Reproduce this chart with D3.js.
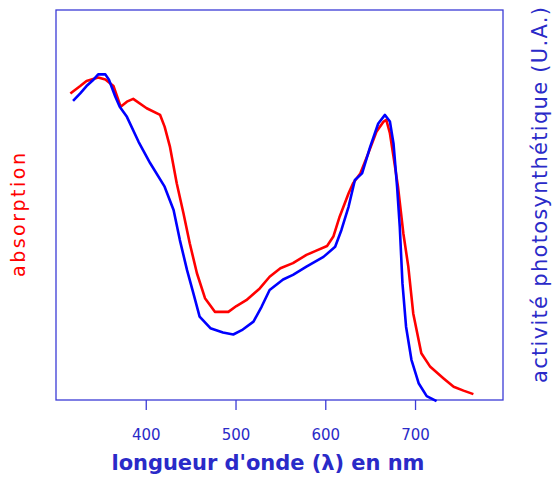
<!DOCTYPE html>
<html>
<head>
<meta charset="utf-8">
<script src="https://cdn.jsdelivr.net/npm/d3@7"></script>
<style>
  body { margin: 0; background: #fff; }
  svg { display: block; font-family: "DejaVu Sans", sans-serif; }
</style>
</head>
<body>
<script>
// absorption spectrum (red) and photosynthetic action spectrum (blue), arbitrary units 0-100
const redWl  = [316, 327, 334, 347, 355, 364, 368, 372, 379, 386, 401, 416, 421, 427, 434.5, 442, 449, 457, 466, 477, 492, 501, 512, 527, 538, 550, 564, 579, 590, 602, 609, 616, 626, 631, 639, 648, 657, 665, 668, 672, 676, 681, 687, 692.5, 698, 707, 717, 731.5, 743, 754, 765]
const redAbs = [78.6, 80.5, 81.8, 82.7, 82.2, 80.5, 77.9, 75.2, 76.5, 77.2, 74.8, 73.1, 70.1, 64.9, 55.6, 47.9, 40.2, 32.5, 26.1, 22.6, 22.6, 24.1, 25.6, 28.6, 31.6, 33.8, 35.1, 37.2, 38.3, 39.5, 41.9, 47, 53, 55.6, 58.1, 63.3, 68.8, 71.4, 71.8, 68.4, 62.4, 54.7, 42.7, 34.2, 22.2, 12, 8.5, 5.6, 3.4, 2.4, 1.5]

const blueWl  = [319, 327, 334, 342, 347, 355, 359, 366, 371, 379, 392, 405, 421, 431, 438, 446, 453, 460, 472, 486, 497.5, 507, 520, 529, 538, 553, 564, 579, 598, 611, 618, 626, 633, 641, 650, 659, 666.5, 672, 676, 680, 683, 686, 690, 696, 704, 713, 724]
const blueAct = [76.7, 78.6, 80.5, 82.2, 83.5, 83.5, 82.1, 77.8, 75.2, 72.6, 66.2, 60.7, 54.7, 48.7, 41, 33.3, 27.4, 21.4, 18.4, 17.3, 16.8, 17.9, 20.1, 23.9, 28.2, 30.9, 32.1, 34.2, 36.7, 39.3, 43.6, 49.6, 56.4, 58.1, 64.9, 70.9, 73.1, 71.4, 65.8, 54.7, 44.4, 29.9, 18.8, 10.3, 4.3, 1.0, -0.3]

const xTicks = [400, 500, 600, 700]

const width = 553
const height = 479
const margin = {top: 10, right: 50, bottom: 79, left: 56}

const frameColor = '#3b3bd6'
const textBlue = '#2a2ac8'

const x = d3.scaleLinear().domain([300, 798]).range([margin.left, width - margin.right])
const y = d3.scaleLinear().domain([0, 100]).range([height - margin.bottom, margin.top])

const svg = d3.select('body').append('svg')
      .attr('width', width)
      .attr('height', height)

// frame
svg.append('rect')
  .attr('x', x(300))
  .attr('y', y(100))
  .attr('width', x(798) - x(300))
  .attr('height', y(0) - y(100))
  .attr('fill', 'none')
  .attr('stroke', frameColor)
  .attr('stroke-width', 1.3)

// bottom ticks
const xAxis = svg.append('g')
  .attr('transform', 'translate(0,' + y(0) + ')')
  .call(d3.axisBottom(x).tickValues(xTicks).tickSize(10).tickPadding(19).tickFormat(d3.format('d')))
xAxis.select('.domain').remove()
xAxis.selectAll('line').attr('stroke', frameColor).attr('stroke-width', 1.3)
xAxis.selectAll('text')
  .attr('fill', textBlue)
  .style('font-size', '15px')
  .style('font-family', '"DejaVu Sans", sans-serif')

const line = d3.line()
  .x(function(d) { return x(d[0]) })
  .y(function(d) { return y(d[1]) })

svg.append('path')
  .datum(redWl.map(function(w, i) { return [w, redAbs[i]] }))
  .attr('d', line)
  .attr('fill', 'none')
  .attr('stroke', '#ff0000')
  .attr('stroke-width', 2.6)
  .attr('stroke-linejoin', 'round')

svg.append('path')
  .datum(blueWl.map(function(w, i) { return [w, blueAct[i]] }))
  .attr('d', line)
  .attr('fill', 'none')
  .attr('stroke', '#0000ff')
  .attr('stroke-width', 2.6)
  .attr('stroke-linejoin', 'round')

// axis titles
svg.append('text')
  .attr('x', 268)
  .attr('y', 470)
  .attr('text-anchor', 'middle')
  .attr('fill', textBlue)
  .attr('textLength', 313)
  .attr('lengthAdjust', 'spacing')
  .style('font-size', '21px')
  .style('font-weight', 'bold')
  .text("longueur d'onde (λ) en nm")

svg.append('text')
  .attr('transform', 'translate(25,215) rotate(-90)')
  .attr('text-anchor', 'middle')
  .attr('fill', '#ff0000')
  .attr('textLength', 124)
  .attr('lengthAdjust', 'spacing')
  .style('font-size', '19px')
  .text('absorption')

svg.append('text')
  .attr('transform', 'translate(547,195) rotate(-90)')
  .attr('text-anchor', 'middle')
  .attr('fill', textBlue)
  .attr('textLength', 376)
  .attr('lengthAdjust', 'spacing')
  .style('font-size', '21px')
  .text('activité photosynthétique (U.A.)')
</script>
</body>
</html>
